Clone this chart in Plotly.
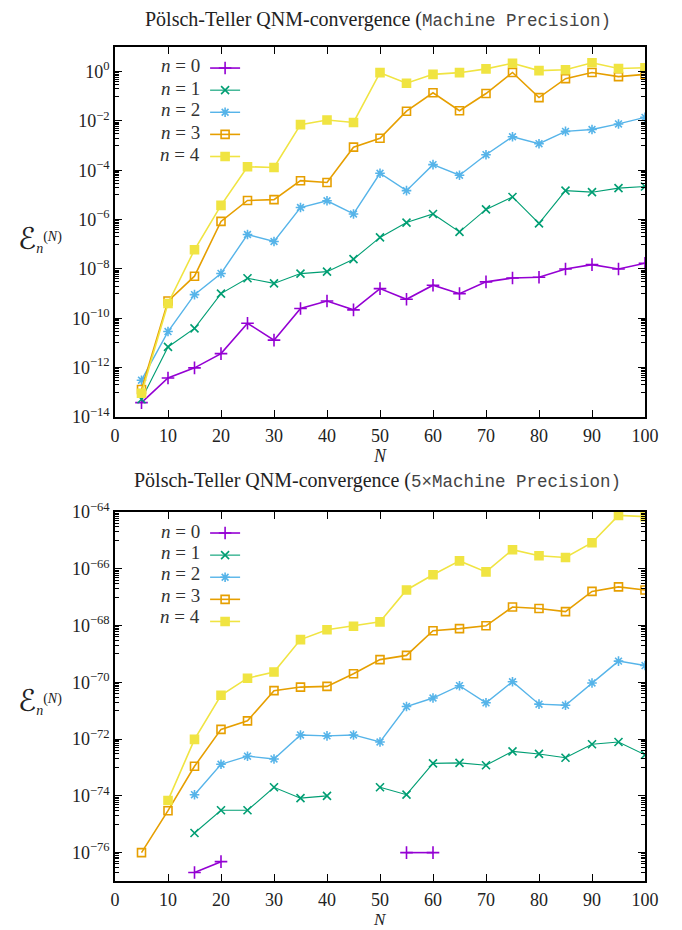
import plotly.graph_objects as go

N = [5, 10, 15, 20, 25, 30, 35, 40, 45, 50, 55, 60, 65, 70, 75, 80, 85, 90, 95, 100]

# Top panel: machine precision
top_n0 = [3.8e-14, 3.8e-13, 9.8e-13, 3.7e-12, 6.3e-11, 1.3e-11, 2.5e-10, 5.0e-10, 2.2e-10, 1.6e-9,
          5.9e-10, 2.2e-9, 1.0e-9, 3.0e-9, 4.3e-9, 4.6e-9, 1.0e-8, 1.5e-8, 1.0e-8, 1.7e-8]
top_n1 = [5.2e-14, 6.9e-12, 3.9e-11, 1.0e-9, 4.2e-9, 2.6e-9, 6.5e-9, 7.8e-9, 2.5e-8, 1.9e-7,
          7.6e-7, 1.7e-6, 3.2e-7, 2.6e-6, 8.3e-6, 7.1e-7, 1.5e-5, 1.3e-5, 1.9e-5, 2.2e-5]
top_n2 = [3.1e-13, 2.9e-11, 9.1e-10, 6.6e-9, 2.5e-7, 1.3e-7, 3.1e-6, 5.8e-6, 1.7e-6, 7.6e-5,
          1.5e-5, 1.7e-4, 6.3e-5, 4.3e-4, 2.3e-3, 1.2e-3, 3.8e-3, 4.5e-3, 7.6e-3, 1.4e-2]
top_n3 = [1.3e-13, 5.0e-10, 5.1e-9, 8.5e-7, 6.0e-6, 6.5e-6, 3.8e-5, 3.2e-5, 8.7e-4, 2.0e-3,
          2.5e-2, 0.14, 2.6e-2, 0.13, 0.93, 8.9e-2, 0.52, 0.93, 0.63, 0.78]
top_n4 = [9.1e-14, 4.0e-10, 6.0e-8, 3.8e-6, 1.4e-4, 1.3e-4, 7.1e-3, 1.1e-2, 8.7e-3, 0.91,
          0.34, 0.78, 0.91, 1.3, 2.2, 1.1, 1.2, 2.3, 1.35, 1.45]

# Bottom panel: 5 x machine precision (None = no value)
bot_n0 = [None, None, 2.0e-77, 4.8e-77, None, None, None, None, None, None,
          1.0e-76, 1.0e-76, None, None, None, None, None, None, None, None]
bot_n1 = [None, None, 4.9e-76, 3.1e-75, 3.1e-75, 2.0e-74, 8.3e-75, 1.0e-74, None, 2.0e-74,
          1.1e-74, 1.4e-73, 1.45e-73, 1.2e-73, 3.7e-73, 3.0e-73, 2.2e-73, 6.6e-73, 7.9e-73, 2.8e-73]
bot_n2 = [None, None, 1.1e-74, 1.3e-73, 2.5e-73, 2.0e-73, 1.4e-72, 1.3e-72, 1.4e-72, 7.9e-73,
          1.4e-71, 2.8e-71, 7.6e-71, 1.9e-71, 1.05e-70, 1.7e-71, 1.55e-71, 9.5e-71, 5.6e-70, 3.9e-70]
bot_n3 = [1.0e-76, 3.0e-75, 1.1e-73, 2.2e-72, 4.4e-72, 5.1e-71, 6.8e-71, 7.2e-71, 2.0e-70, 6.3e-70,
          8.9e-70, 6.6e-69, 7.8e-69, 9.8e-69, 4.5e-68, 4.0e-68, 3.1e-68, 1.6e-67, 2.3e-67, 1.8e-67]
bot_n4 = [None, 6.9e-75, 9.8e-73, 3.5e-71, 1.4e-70, 2.3e-70, 3.2e-69, 7.1e-69, 9.5e-69, 1.35e-68,
          1.8e-67, 6.2e-67, 1.9e-66, 7.8e-67, 4.7e-66, 2.9e-66, 2.5e-66, 8.3e-66, 7.6e-65, 6.9e-65]

labels = ["0", "1", "2", "3", "4"]
colors = ["#9400d3", "#009e73", "#56b4e9", "#e69f00", "#f0e442"]
symbols = ["cross-thin-open", "x-thin-open", "asterisk-open", "square-open", "square"]
msizes = [9, 8, 8, 8, 8]
lwidths = [1.6, 1.1, 1.4, 1.6, 1.6]

top_ticks_exp = [0, -2, -4, -6, -8, -10, -12, -14]
bot_ticks_exp = [-64, -66, -68, -70, -72, -74, -76]

SERIF = "Liberation Serif, DejaVu Serif, serif"

fig = go.Figure()

top_series = [top_n0, top_n1, top_n2, top_n3, top_n4]
bot_series = [bot_n0, bot_n1, bot_n2, bot_n3, bot_n4]

for i in range(5):
    fig.add_trace(go.Scatter(
        x=N, y=top_series[i], mode="lines+markers", name=" ",
        line=dict(color=colors[i], width=lwidths[i]),
        marker=dict(symbol=symbols[i], size=msizes[i], color=colors[i],
                    line=dict(color=colors[i], width=1.6)),
        xaxis="x", yaxis="y", legend="legend", connectgaps=False))
for i in range(5):
    fig.add_trace(go.Scatter(
        x=N, y=bot_series[i], mode="lines+markers", name=" ",
        line=dict(color=colors[i], width=lwidths[i]),
        marker=dict(symbol=symbols[i], size=msizes[i], color=colors[i],
                    line=dict(color=colors[i], width=1.6)),
        xaxis="x2", yaxis="y2", legend="legend2", connectgaps=False))


def fmt(e):
    return "10<sup>" + (str(e) if e >= 0 else "\u2212" + str(-e)) + "</sup>"


def minor_vals(exps):
    vals = []
    for e in exps:
        for m in range(10, 100, 10):
            vals.append(m * 10.0 ** (e - 2))
    return vals


axis_common = dict(showline=True, linecolor="black", linewidth=1.5, mirror="ticks",
                   ticks="inside", ticklen=7, tickcolor="black", tickwidth=1.2,
                   showgrid=False, zeroline=False,
                   tickfont=dict(family=SERIF, size=18, color="#222"))

x_common = dict(axis_common, range=[0, 100], tickvals=[0, 10, 20, 30, 40, 50, 60, 70, 80, 90, 100],
                ticklabelstandoff=2)

top_dom = [0.5564, 1.0]
bot_dom = [0.0, 0.4424]

# page body has an 8px margin: figure is 8px smaller, left/top margins reduced by 8
fig.update_layout(
    width=674, height=922,
    margin=dict(l=107, r=37, t=39, b=49),
    paper_bgcolor="white", plot_bgcolor="white",
    showlegend=True,
    xaxis=dict(x_common, domain=[0, 1], anchor="y"),
    yaxis=dict(axis_common, type="log", domain=top_dom, anchor="x", range=[-14, 1],
               tickvals=[10.0 ** e for e in top_ticks_exp],
               ticktext=[fmt(e) for e in top_ticks_exp],
               minor=dict(ticks="inside", ticklen=4, tickcolor="black",
                          tickvals=minor_vals(top_ticks_exp))),
    xaxis2=dict(x_common, domain=[0, 1], anchor="y2"),
    yaxis2=dict(axis_common, type="log", domain=bot_dom, anchor="x2", range=[-77, -64],
                tickvals=[10.0 ** e for e in bot_ticks_exp],
                ticktext=[fmt(e) for e in bot_ticks_exp],
                minor=dict(ticks="inside", ticklen=4, tickcolor="black",
                           tickvals=minor_vals(bot_ticks_exp))),
    legend=dict(x=0.17, y=0.994, xanchor="left", yanchor="top", bgcolor="rgba(0,0,0,0)",
                font=dict(family=SERIF, size=14.7), itemwidth=30, tracegroupgap=0),
    legend2=dict(x=0.17, y=0.4365, xanchor="left", yanchor="top", bgcolor="rgba(0,0,0,0)",
                 font=dict(family=SERIF, size=14.7), itemwidth=30, tracegroupgap=0),
)

ann = []
title_top = ("<span style='font-family:Liberation Serif;font-size:20px'>P\u00f6lsch-Teller QNM-convergence (</span>"
             "<span style='font-family:Liberation Mono;font-size:17.5px;color:#444'>Machine Precision)</span>")
title_bot = ("<span style='font-family:Liberation Serif;font-size:20px'>P\u00f6lsch-Teller QNM-convergence (</span>"
             "<span style='font-family:Liberation Mono;font-size:17.5px;color:#444'>5\u00d7Machine Precision)</span>")
ann.append(dict(text=title_top, x=0.496, y=(881 - 20) / 834, xref="paper", yref="paper",
                xanchor="center", yanchor="middle", showarrow=False,
                font=dict(family=SERIF, size=15, color="#222")))
ann.append(dict(text=title_bot, x=0.496, y=(881 - 480) / 834, xref="paper", yref="paper",
                xanchor="center", yanchor="middle", showarrow=False,
                font=dict(family=SERIF, size=15, color="#222")))
ylab = ("<span style='font-family:DejaVu Sans;font-size:30px'>\u2130</span>"
        "<sub><i>n</i></sub><sup>(<i>N</i>)</sup>")
ann.append(dict(text=ylab, x=(16 - 115) / 530, y=(881 - 238) / 834, xref="paper", yref="paper",
                xanchor="left", yanchor="middle", showarrow=False,
                font=dict(family=SERIF, size=20, color="#222")))
ann.append(dict(text=ylab, x=(16 - 115) / 530, y=(881 - 700) / 834, xref="paper", yref="paper",
                xanchor="left", yanchor="middle", showarrow=False,
                font=dict(family=SERIF, size=20, color="#222")))
ann.append(dict(text="<i>N</i>", x=0.5, y=(881 - 456) / 834, xref="paper", yref="paper",
                xanchor="center", yanchor="middle", showarrow=False,
                font=dict(family=SERIF, size=18, color="#222")))
ann.append(dict(text="<i>N</i>", x=0.5, y=(881 - 919) / 834, xref="paper", yref="paper",
                xanchor="center", yanchor="middle", showarrow=False,
                font=dict(family=SERIF, size=17, color="#222")))

# legend labels (text to the left of the legend samples, gnuplot style)
top_leg_y = [66, 88, 110, 132, 154]
bot_leg_y = [531, 552, 573, 595, 616]
for k in range(5):
    for yy in (top_leg_y[k], bot_leg_y[k]):
        ann.append(dict(text="<i>n</i> = " + labels[k], x=(202 - 115) / 530, y=(881 - yy) / 834,
                        xref="paper", yref="paper", xanchor="right", yanchor="middle",
                        showarrow=False, font=dict(family=SERIF, size=19, color="#333")))

fig.update_layout(annotations=ann)

fig.write_html("out.html")
